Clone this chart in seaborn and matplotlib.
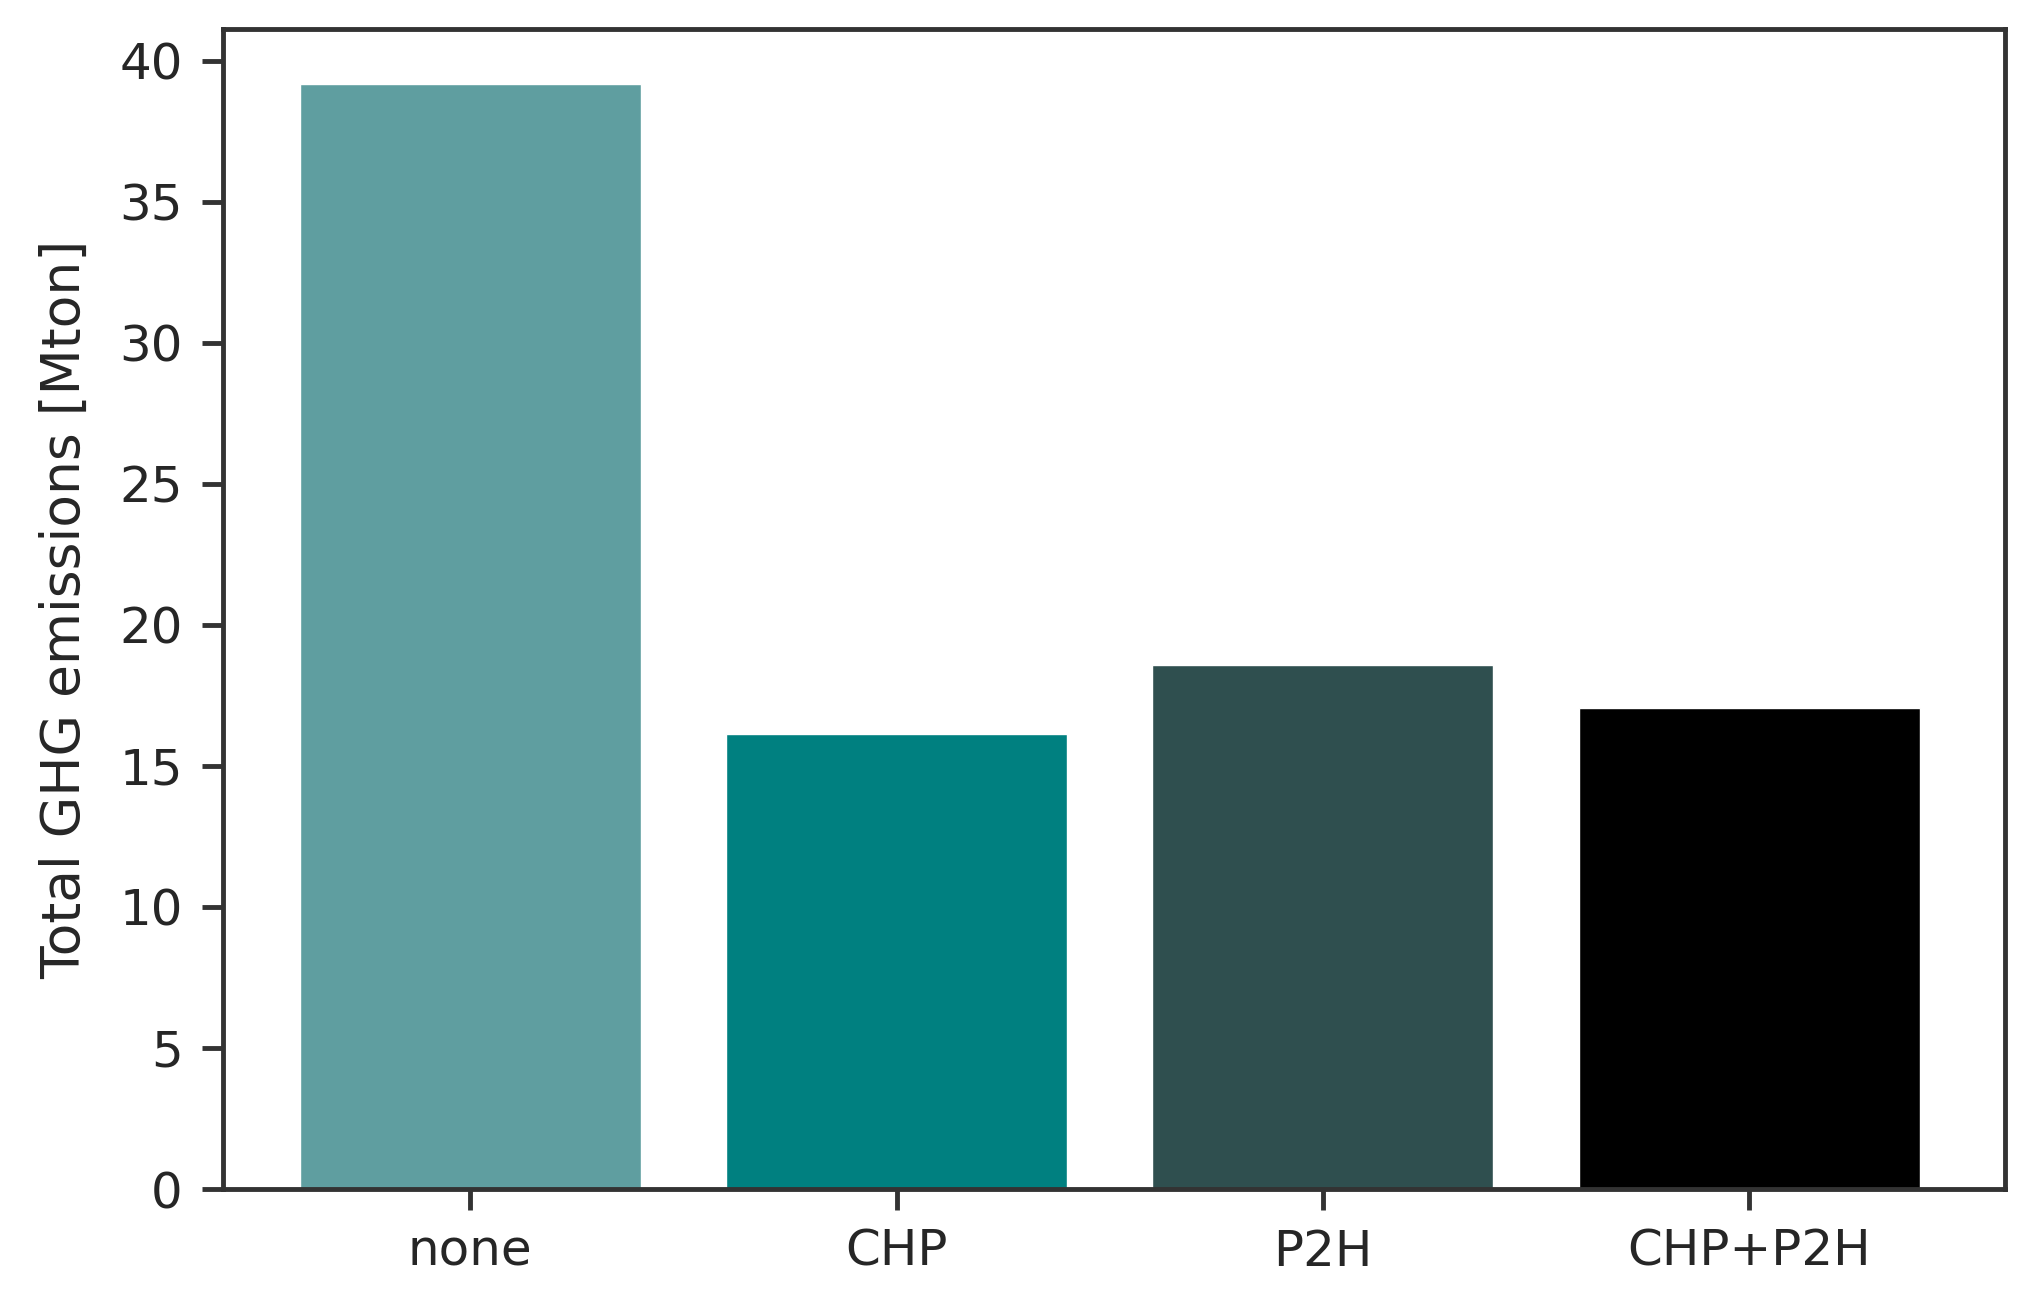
import pandas as pd
import matplotlib
matplotlib.use("Agg")
import matplotlib.pyplot as plt
import seaborn as sns

# Dados
cenarios = ["none", "CHP", "P2H", "CHP+P2H"]
emissoes = [39.16, 16.14, 18.58, 17.06]
cores = ["#5f9ea0", "#008080", "#2f4f4f", "#000000"]

df = pd.DataFrame({"cenario": cenarios, "emissoes": emissoes})

sns.set_style("ticks")
plt.rcParams["font.family"] = ["DejaVu Sans"]

fig = plt.figure(figsize=(20.36, 13.12), dpi=100)
ax = fig.add_axes([0.1095, 0.0937, 0.8753, 0.8842])

sns.barplot(data=df, x="cenario", y="emissoes", hue="cenario",
            palette=cores, dodge=False, width=0.8, legend=False,
            saturation=1, ax=ax)

ax.set_xlim(-0.58, 3.6)
ax.set_ylim(0, max(emissoes) * 1.05)
ax.set_yticks(range(0, 45, 5))

ax.set_xlabel("")
ax.set_ylabel("Total GHG emissions [Mton]", fontsize=38.5, labelpad=20)
ax.tick_params(axis="both", labelsize=36, length=15, width=3.5,
               color=".2", labelcolor=".15")
ax.tick_params(axis="y", pad=14)
ax.tick_params(axis="x", pad=13)
for s in ax.spines.values():
    s.set_linewidth(3.5)
    s.set_color(".2")

fig.savefig("out.png", dpi=100)
